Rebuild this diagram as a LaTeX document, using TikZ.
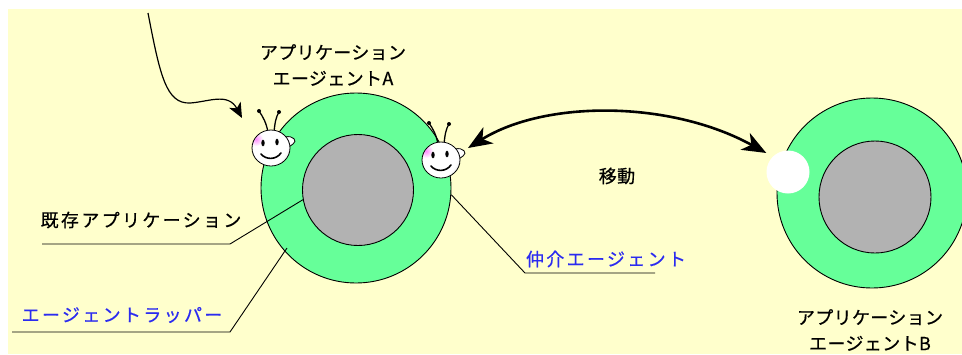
\documentclass[tikz,border=0pt]{standalone}
\usepackage{fontspec}
\usetikzlibrary{arrows.meta}
\newfontfamily\jpname[LetterSpace=2,FakeBold=0.6]{Noto Sans CJK JP}
\newfontfamily\jptag[LetterSpace=13,FakeBold=0.6]{Noto Sans CJK JP}
\definecolor{paper}{HTML}{FFFFCC}
\definecolor{ringgreen}{HTML}{66FF99}
\definecolor{coregray}{HTML}{B2B2B2}
\definecolor{linkblue}{HTML}{2B2BF0}
% light falling on the agent's head from the upper left
\pgfdeclareradialshading{headlight}{\pgfpoint{0bp}{0bp}}{%
  color(0bp)=(white); color(14bp)=(white); color(25bp)=(black!38); color(50bp)=(black!38)}
\tikzset{
  x=1pt, y=-1pt,
  wrapper/.style={circle, draw=black, line width=0.9pt, fill=ringgreen, minimum size=#1, inner sep=0pt},
  core/.style={circle, draw=black, line width=0.9pt, fill=coregray, minimum size=#1, inner sep=0pt},
  agentname/.style={font=\fontsize{18}{26}\selectfont\jpname, align=center, inner sep=0pt},
  tagtext/.style={font=\fontsize{18}{20}\selectfont\jptag, inner sep=0pt},
  leader/.style={draw=black, line width=0.9pt},
  hop/.style={line width=2.6pt, {Stealth[length=24pt,width=19pt,inset=7pt]}-{Stealth[length=24pt,width=19pt,inset=7pt]}},
  entry/.style={line width=1.2pt, -{Stealth[length=15pt,width=13pt,inset=4pt]}},
  smiley/.pic={
    % antennae with knobbed tips
    \draw[line width=1.3pt] (-3,-16) .. controls (-5,-26) and (-8,-31) .. (-12,-37);
    \draw[line width=1.3pt] (3,-16) .. controls (4,-26) and (5,-31) .. (8,-36);
    \fill (-12,-37) circle (2pt);
    \fill (8,-36) circle (2pt);
    % ear
    \draw[line width=0.8pt, fill=white] (14,-11) .. controls (22,-13) and (27,-7) .. (22,-4) .. controls (20,-2) and (18,-1) .. (15,-1) -- cycle;
    % head
    \begin{scope}
      \clip (0,0) ellipse [x radius=19pt, y radius=18pt];
      \shade[shading=headlight] (-8,-6) circle (44pt);
      \shade[inner color=magenta!45, outer color=white] (-15,-9) circle (7pt);
    \end{scope}
    \draw[line width=0.8pt] (0,0) ellipse [x radius=19pt, y radius=18pt];
    % eyes
    \fill (-8,-5) ellipse [x radius=1.7pt, y radius=3.3pt];
    \fill (6,-6) ellipse [x radius=1.7pt, y radius=3.3pt];
    % smile
    \draw[line width=1.6pt, line cap=round] (-10,6) .. controls (-5,12) and (5,12) .. (10,5);
  }
}
\begin{document}
\begin{tikzpicture}
  \useasboundingbox (0,0) rectangle (962,354);
  \fill[white] (0,0) rectangle (962,354);
  \fill[paper] (8,9) rectangle (962,354);

  % agent A
  \node[wrapper=190pt] (A) at (356,188) {};
  \node[core=111pt] (Ai) at (358,190) {};
  \node[agentname] (nameA) at (333,65) {アプリケーション\\エージェントA};

  % agent B
  \node[wrapper=190pt] (B) at (872,193) {};
  \node[core=112pt] (Bi) at (875,197) {};
  \node[fill=white, circle, minimum size=43pt, inner sep=0pt] (slot) at (788,172) {};
  \node[agentname] (nameB) at (870,330) {アプリケーション\\エージェントB};

  % agents sitting on the wrapper
  \pic at (271,148) {smiley};
  \pic at (441,160) {smiley};
  \coordinate (mover) at (468,148);
  \coordinate (src) at (148,13);
  \coordinate (arrive) at (242,118);

  % migration arrow
  \draw[hop] (mover) .. controls (545,100) and (670,100) .. (slot.west |- 0,153);
  \node[font=\fontsize{18}{20}\selectfont\jpname, inner sep=0pt] (move) at (617,176) {移動};

  % incoming agent
  \draw[entry] (src) .. controls (160,75) and (166,104) .. (190,103)
                     .. controls (208,102) and (228,92) .. (arrive);

  % callouts
  \node[tagtext] (exist) at (141,220) {既存アプリケーション};
  \coordinate (e0) at (42,244);
  \coordinate (e1) at (230,244);
  \draw[leader] (Ai.190) -- (e1) -- (e0);

  \node[tagtext, text=linkblue] (wrap) at (122,315) {エージェントラッパー};
  \coordinate (w0) at (12,332);
  \coordinate (w1) at (230,332);
  \coordinate (w2) at (287,248);
  \draw[leader] (w2) -- (w1) -- (w0);

  \node[tagtext, text=linkblue] (broker) at (606,259) {仲介エージェント};
  \coordinate (m0) at (525,273);
  \coordinate (m1) at (655,273);
  \draw[leader] (A.356) -- (m0) -- (m1);
\end{tikzpicture}
\end{document}
